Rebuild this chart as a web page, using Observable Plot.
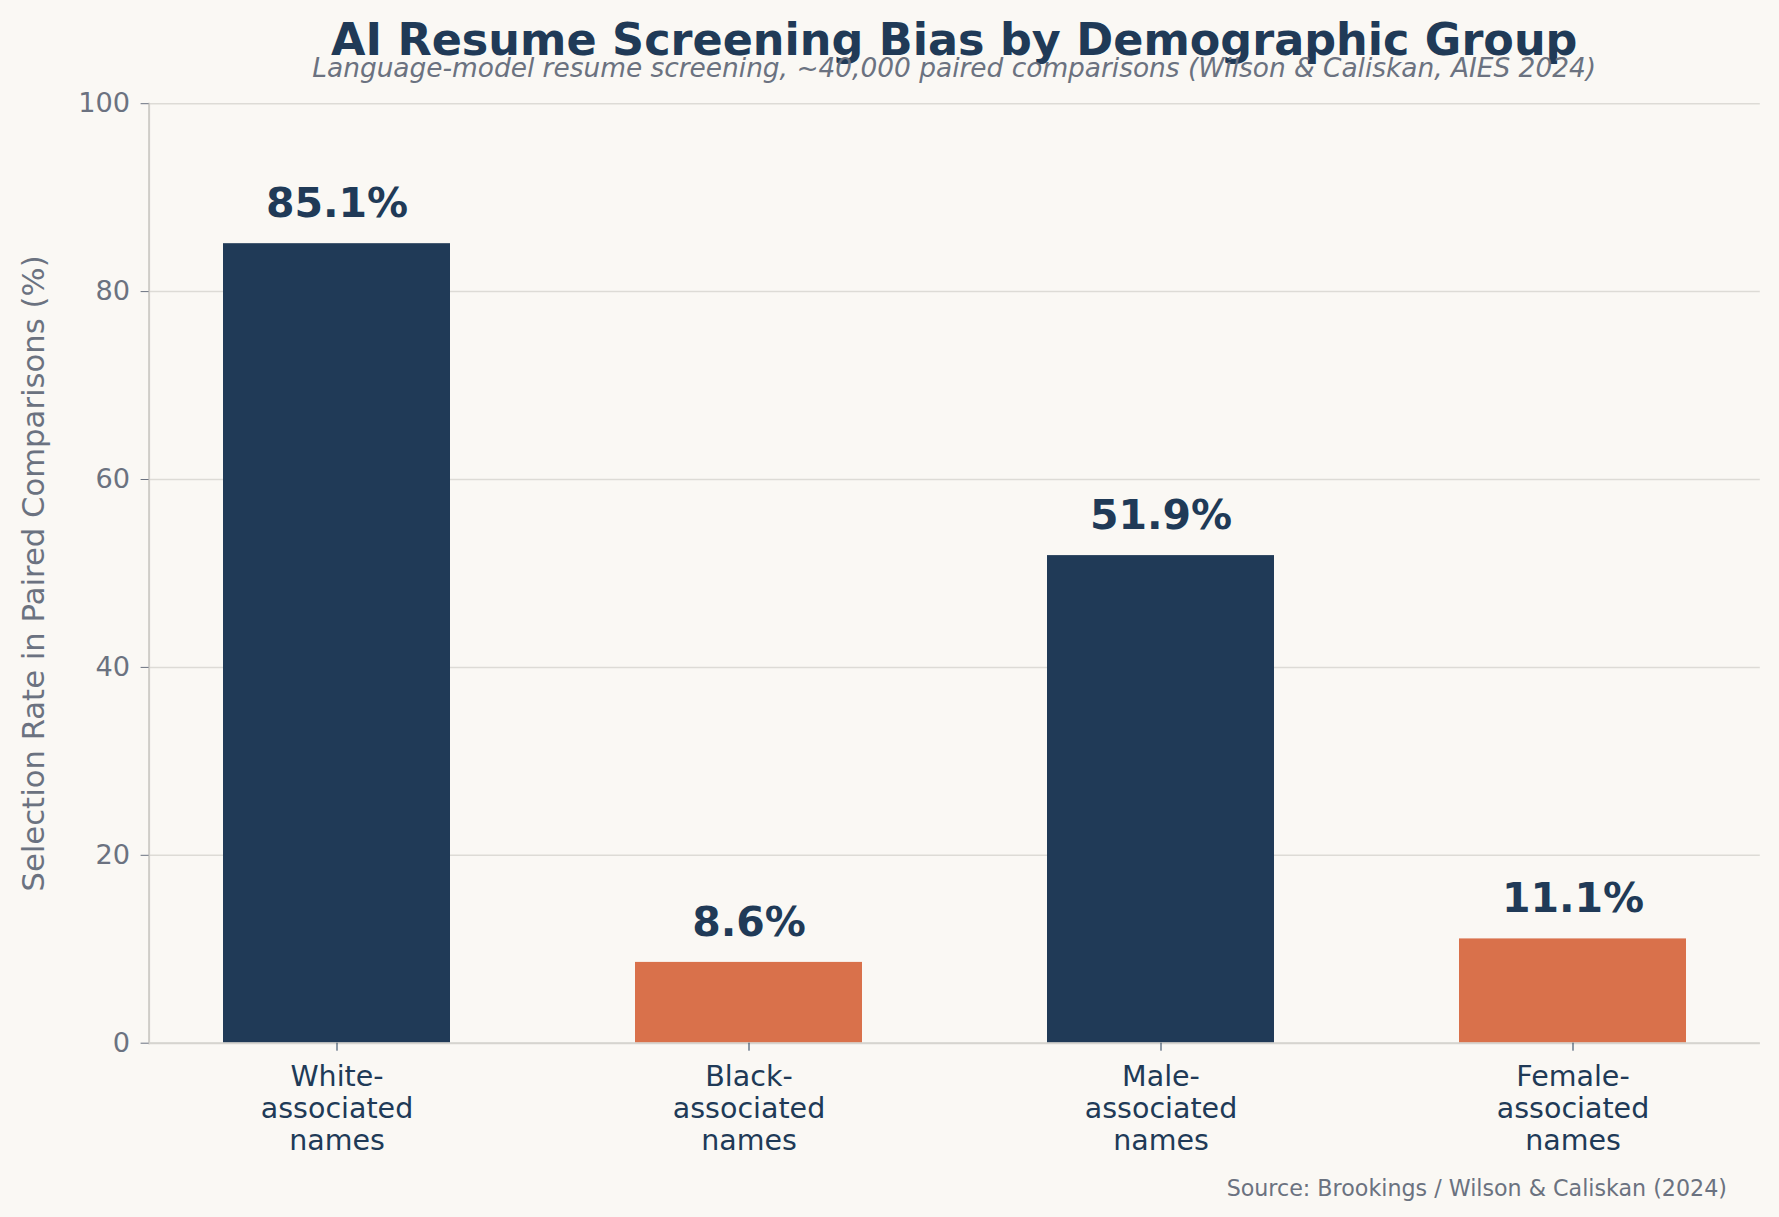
<!DOCTYPE html>
<html>
<head>
<meta charset="utf-8">
<script src="https://cdn.jsdelivr.net/npm/d3@7"></script>
<script src="https://cdn.jsdelivr.net/npm/@observablehq/plot@0.6"></script>
<style>
  html, body { margin: 0; padding: 0; background: #faf8f4; }
  body { width: 1779px; height: 1217px; position: relative; overflow: hidden; font-family: "DejaVu Sans", sans-serif; }
  #title { position: absolute; left: 148.6px; width: 1611.2px; top: 18px; text-align: center; font-size: 44.5px; line-height: 1; font-weight: bold; color: #203a57; white-space: nowrap; }
  #subtitle { position: absolute; left: 148.6px; width: 1611.2px; top: 55px; text-align: center; font-size: 26.4px; line-height: 1; font-style: italic; color: #6b7280; white-space: nowrap; }
  #chart { position: absolute; left: 0; top: 85px; }
  #caption { position: absolute; right: 52px; top: 1176.5px; font-size: 22.2px; line-height: 1; color: #6b7280; white-space: nowrap; }
</style>
</head>
<body>
<div id="title">AI Resume Screening Bias by Demographic Group</div>
<div id="subtitle">Language-model resume screening, ~40,000 paired comparisons (Wilson &amp; Caliskan, AIES 2024)</div>
<div id="chart"></div>
<div id="caption">Source: Brookings / Wilson &amp; Caliskan (2024)</div>
<script>
const groups = ["White-associated names", "Black-associated names", "Male-associated names", "Female-associated names"];
const tickLabels = ["White-\nassociated\nnames", "Black-\nassociated\nnames", "Male-\nassociated\nnames", "Female-\nassociated\nnames"];
const rates = [85.1, 8.6, 51.9, 11.1];
const kinds = ["favored", "disfavored", "favored", "disfavored"];
const yTicks = [0, 20, 40, 60, 80, 100];
const yLabel = "Selection Rate in Paired Comparisons (%)";

const data = groups.map((g, i) => ({group: g, rate: rates[i], kind: kinds[i]}));
const labelOf = new Map(groups.map((g, i) => [g, tickLabels[i]]));

const navy = "#203a57";
const orange = "#d9714b";
const gray = "#6b7280";

const plot = Plot.plot({
  width: 1779,
  height: 1080,
  marginTop: 18.2,
  marginBottom: 122.3,
  marginLeft: 148.6,
  marginRight: 19.2,
  style: {background: "transparent", fontFamily: "DejaVu Sans, sans-serif"},
  x: {domain: groups, paddingInner: 0.45, paddingOuter: 0.178, align: 0.5},
  y: {domain: [0, 100]},
  color: {domain: ["favored", "disfavored"], range: [navy, orange]},
  marks: [
    Plot.gridY(yTicks, {stroke: "#dddbd6", strokeOpacity: 1, strokeWidth: 1.5}),
    Plot.barY(data, {x: "group", y: "rate", fill: "kind"}),
    Plot.frame({anchor: "left", stroke: "#cfcdc8", strokeWidth: 2}),
    Plot.ruleY([0], {stroke: "#d6d4cf", strokeWidth: 2}),
    Plot.axisY({
      ticks: yTicks, tickSize: 8, tickPadding: 11, fontSize: 27.2,
      stroke: gray, fill: gray, label: null
    }),
    Plot.text([yLabel], {
      frameAnchor: "left", rotate: -90, text: (d) => d,
      textAnchor: "middle", lineAnchor: "middle",
      dx: -115, fontSize: 30.7, fill: gray
    }),
    Plot.axisX({
      tickSize: 8, tickPadding: 12, fontSize: 28.5, lineHeight: 1.12,
      stroke: navy, fill: navy, label: null,
      tickFormat: (d) => labelOf.get(d)
    }),
    Plot.text(data, {
      x: "group", y: "rate", text: (d) => d.rate.toFixed(1) + "%",
      dy: -40, fontSize: 41, fontWeight: "bold", fill: navy
    })
  ]
});
document.getElementById("chart").appendChild(plot);
</script>
</body>
</html>
